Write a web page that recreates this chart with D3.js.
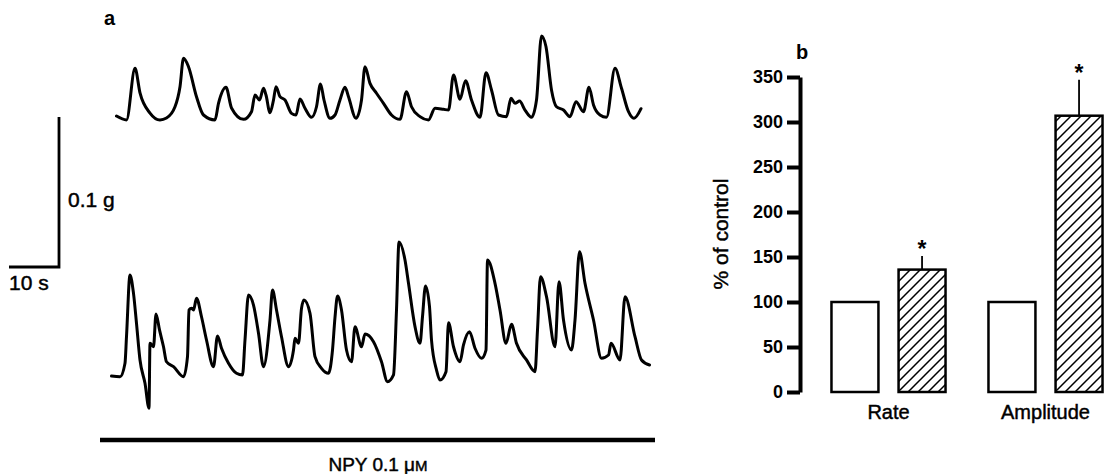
<!DOCTYPE html>
<html>
<head>
<meta charset="utf-8">
<script src="https://cdn.jsdelivr.net/npm/d3@7/dist/d3.min.js"></script>
<style>
    html, body { margin: 0; padding: 0; background: #fff; }
    svg { display: block; font-family: "Liberation Sans", Arial, sans-serif; }
    .label { stroke: #000; stroke-width: 0.45px; }
</style>
</head>
<body>
<svg id="chart" width="1104" height="474"></svg>
<script>
// panel a: tension traces, [time (s), tension above baseline (mg)]
var controlTrace = [
    [1.3, 3.3], [3.3, 0.7], [5.0, 35.1], [6.0, 18.7], [8.0, 5.3], [10.0, 0.7], [11.3, 2.0], [13.0, 9.5],
    [14.0, 22.9], [14.7, 41.8], [15.7, 36.2], [17.3, 16.2], [18.7, 4.0], [21.0, 0.7], [21.7, 11.8],
    [23.2, 22.5], [24.3, 8.7], [26.7, 1.1], [28.3, 6.2], [29.0, 17.3], [29.9, 14.0], [30.7, 21.8],
    [31.2, 17.3], [32.0, 5.5], [32.7, 14.0], [33.2, 22.9], [34.0, 16.2], [35.0, 14.0], [36.3, 5.1],
    [37.2, 4.0], [38.0, 14.7], [39.0, 8.5], [40.3, 2.5], [41.3, 9.5], [42.1, 24.7], [42.8, 14.0],
    [44.0, 1.8], [45.0, 4.0], [46.0, 14.0], [47.0, 22.5], [47.7, 16.2], [49.2, 1.8], [50.3, 14.0],
    [51.0, 36.2], [52.0, 25.1], [53.3, 18.5], [54.7, 11.8], [56.3, 4.0], [58.0, 1.1], [59.3, 19.5],
    [60.3, 9.5], [62.0, 2.9], [63.7, 0.7], [65.0, 8.5], [66.7, 7.8], [67.7, 7.3], [68.7, 30.7],
    [70.0, 14.5], [71.1, 26.9], [72.3, 14.0], [74.0, 2.5], [75.2, 32.2], [76.3, 20.7], [77.7, 4.0],
    [79.3, 2.9], [80.2, 15.1], [81.0, 11.8], [81.9, 13.3], [83.0, 7.3], [84.3, 2.5], [85.3, 14.0],
    [86.3, 56.7], [87.2, 49.5], [88.3, 20.7], [89.3, 9.5], [90.7, 7.3], [92.0, 2.9], [93.2, 12.9],
    [94.7, 6.2], [95.8, 22.5], [96.7, 10.7], [98.0, 4.0], [99.3, 2.5], [101.0, 35.1], [102.3, 21.8],
    [103.7, 6.2], [104.8, 1.8], [106.2, 8.2]
];

var npyTrace = [
    [0.3, 0], [2.0, -0.5], [3.0, 8.5], [3.3, 26.2], [4.0, 67.3], [4.7, 55.1], [5.3, 35.1], [6.0, 10.7],
    [7.0, -4.9], [7.8, -21.5], [8.0, 21.8], [8.7, 19.5], [9.2, 41.3], [9.9, 30.7], [10.7, 19.5],
    [11.3, 9.5], [12.7, 6.2], [14.7, -0.5], [15.5, 12.9], [15.8, 44.0], [16.3, 45.1], [16.7, 44.0],
    [17.3, 51.8], [18.3, 39.5], [19.3, 24.0], [20.7, 6.2], [21.5, 26.7], [22.3, 18.5], [23.7, 8.5],
    [25.3, 1.8], [26.5, 0.7], [27.0, 24.0], [27.7, 54.0], [28.7, 47.3], [29.7, 28.5], [30.7, 6.2],
    [32.0, 37.3], [32.5, 57.3], [33.3, 44.0], [34.3, 26.2], [35.7, 6.2], [36.7, 17.3], [37.0, 25.1],
    [37.7, 21.8], [38.3, 45.1], [38.8, 50.7], [40.0, 41.8], [41.0, 12.9], [42.3, 5.1], [43.7, 1.8],
    [44.5, 17.3], [45.0, 39.1], [45.5, 53.3], [46.3, 44.0], [47.3, 17.3], [48.3, 9.5], [49.0, 32.9],
    [50.3, 19.5], [51.0, 28.0], [52.7, 22.9], [54.3, 9.5], [55.5, -3.8], [56.7, 0.7], [57.3, 44.0],
    [57.8, 89.3], [59.0, 77.3], [59.7, 61.8], [61.0, 32.9], [62.0, 21.8], [62.5, 39.5], [63.1, 60.0],
    [63.9, 46.2], [64.3, 24.0], [65.3, 4.0], [66.0, -2.7], [67.2, 2.9], [67.7, 35.5], [68.7, 19.5],
    [70.0, 9.5], [70.7, 20.7], [71.9, 29.5], [73.0, 18.5], [74.3, 11.8], [75.2, 17.3], [75.5, 77.3],
    [77.0, 61.8], [78.0, 44.0], [79.2, 21.8], [80.3, 34.5], [81.3, 21.8], [83.3, 10.7], [85.0, 2.9],
    [85.5, 30.7], [86.1, 66.2], [87.3, 52.9], [89.0, 19.5], [89.8, 62.9], [90.7, 37.3], [92.3, 17.3],
    [93.0, 37.3], [93.9, 82.9], [95.0, 61.8], [96.7, 37.3], [98.3, 11.8], [99.7, 14.0], [100.2, 21.8],
    [102.0, 10.7], [103.0, 52.9], [105.0, 26.2], [106.3, 10.7], [107.9, 7.3]
];

// scale bar sizes
var scaleBarTime = 10,     // s
    scaleBarTension = 100; // mg (0.1 g)

// panel b: % of control
var categories = ["Rate", "Amplitude"],
    groups = ["control", "npy"],
    controlValues = [100, 100],
    npyValues = [136, 307],
    npyErrors = [15, 40],
    yTicks = [0, 50, 100, 150, 200, 250, 300, 350];

var svg = d3.select("#chart");

// ---------- panel a ----------
var xTime = d3.scaleLinear().domain([0, 110]).range([110, 660]),
    yTop = d3.scaleLinear().domain([0, 100]).range([121, -29]),
    yBottom = d3.scaleLinear().domain([0, 100]).range([376, 226]);

function drawTrace(data, yScale) {
    var line = d3.line()
        .x(function (d) { return xTime(d[0]); })
        .y(function (d) { return yScale(d[1]); })
        .curve(d3.curveMonotoneX);

    svg.append("path")
        .datum(data)
        .attr("d", line)
        .attr("fill", "none")
        .attr("stroke", "#000")
        .attr("stroke-width", 3)
        .attr("stroke-linejoin", "round")
        .attr("stroke-linecap", "round");
}

drawTrace(controlTrace, yTop);
drawTrace(npyTrace, yBottom);

// calibration bars
var corner = { x: 59, y: 267 },
    barLen = xTime(scaleBarTime) - xTime(0),
    barHeight = yTop(0) - yTop(scaleBarTension);

svg.append("path")
    .attr("d", "M" + (corner.x - barLen) + "," + corner.y + "H" + corner.x + "V" + (corner.y - barHeight))
    .attr("fill", "none")
    .attr("stroke", "#000")
    .attr("stroke-width", 2.8);

svg.append("text")
    .attr("class", "label")
    .attr("x", 68).attr("y", 207)
    .attr("font-size", 21)
    .text("0.1 g");

svg.append("text")
    .attr("class", "label")
    .attr("x", 9).attr("y", 290)
    .attr("font-size", 21)
    .text("10 s");

svg.append("text")
    .attr("x", 104).attr("y", 25)
    .attr("font-size", 20)
    .attr("font-weight", "bold")
    .text("a");

// NPY application bar
svg.append("line")
    .attr("x1", 100).attr("x2", 655)
    .attr("y1", 440).attr("y2", 440)
    .attr("stroke", "#000")
    .attr("stroke-width", 4.5);

var npyLabel = svg.append("text")
    .attr("class", "label")
    .attr("x", 378).attr("y", 471)
    .attr("text-anchor", "middle")
    .attr("font-size", 19)
    .text("NPY 0.1 μ");
npyLabel.append("tspan").attr("font-size", 15).text("M");

// ---------- panel b ----------
var y = d3.scaleLinear().domain([0, 350]).range([392, 77]),
    x0 = d3.scaleBand().domain(categories).range([810, 1124]),
    x1 = d3.scaleBand().domain(groups).range([0, x0.bandwidth()])
        .paddingInner(0.3).paddingOuter(0.32);

var defs = svg.append("defs");
var hatch = defs.append("pattern")
    .attr("id", "hatch")
    .attr("patternUnits", "userSpaceOnUse")
    .attr("width", 10).attr("height", 10);
hatch.append("rect").attr("width", 10).attr("height", 10).attr("fill", "#fff");
hatch.append("path")
    .attr("d", "M-2,12 L12,-2 M-2,2 L2,-2 M8,12 L12,8")
    .attr("stroke", "#000")
    .attr("stroke-width", 1.5);

var axis = svg.append("g")
    .attr("transform", "translate(800,0)")
    .call(d3.axisLeft(y).tickValues(yTicks).tickSize(13).tickSizeOuter(0).tickPadding(4));

axis.select(".domain").attr("stroke-width", 4);
axis.selectAll(".tick line").attr("stroke-width", 4);
axis.selectAll(".tick text")
    .attr("font-size", 18)
    .attr("font-weight", "bold")
    .attr("font-family", "Liberation Sans, Arial, sans-serif");

svg.append("text")
    .attr("class", "label")
    .attr("transform", "translate(728,234) rotate(-90)")
    .attr("text-anchor", "middle")
    .attr("font-size", 21)
    .text("% of control");

svg.append("text")
    .attr("x", 796).attr("y", 59)
    .attr("font-size", 20)
    .attr("font-weight", "bold")
    .text("b");

var rows = categories.map(function (c, i) {
    return { cat: c, control: controlValues[i], npy: npyValues[i], err: npyErrors[i] };
});

var g = svg.append("g")
    .selectAll("g")
    .data(rows)
    .enter().append("g")
    .attr("transform", function (d) { return "translate(" + x0(d.cat) + ",0)"; });

// error bars (upward only), drawn first so the bar outline covers their foot
g.append("line")
    .attr("x1", function () { return x1("npy") + x1.bandwidth() / 2; })
    .attr("x2", function () { return x1("npy") + x1.bandwidth() / 2; })
    .attr("y1", function (d) { return y(d.npy); })
    .attr("y2", function (d) { return y(d.npy + d.err); })
    .attr("stroke", "#000")
    .attr("stroke-width", 1.8);

g.append("text")
    .attr("x", function () { return x1("npy") + x1.bandwidth() / 2; })
    .attr("y", function (d) { return y(d.npy + d.err) + 1; })
    .attr("text-anchor", "middle")
    .attr("font-size", 23)
    .attr("font-weight", "bold")
    .text("*");

g.append("rect")
    .attr("x", x1("control"))
    .attr("width", x1.bandwidth())
    .attr("y", function (d) { return y(d.control); })
    .attr("height", function (d) { return y(0) - y(d.control); })
    .attr("fill", "#fff")
    .attr("stroke", "#000")
    .attr("stroke-width", 2.5);

g.append("rect")
    .attr("x", x1("npy"))
    .attr("width", x1.bandwidth())
    .attr("y", function (d) { return y(d.npy); })
    .attr("height", function (d) { return y(0) - y(d.npy); })
    .attr("fill", "url(#hatch)")
    .attr("stroke", "#000")
    .attr("stroke-width", 2.5);

g.append("text")
    .attr("class", "label")
    .attr("x", x0.bandwidth() / 2)
    .attr("y", 419)
    .attr("text-anchor", "middle")
    .attr("font-size", 20)
    .text(function (d) { return d.cat; });
</script>
</body>
</html>
